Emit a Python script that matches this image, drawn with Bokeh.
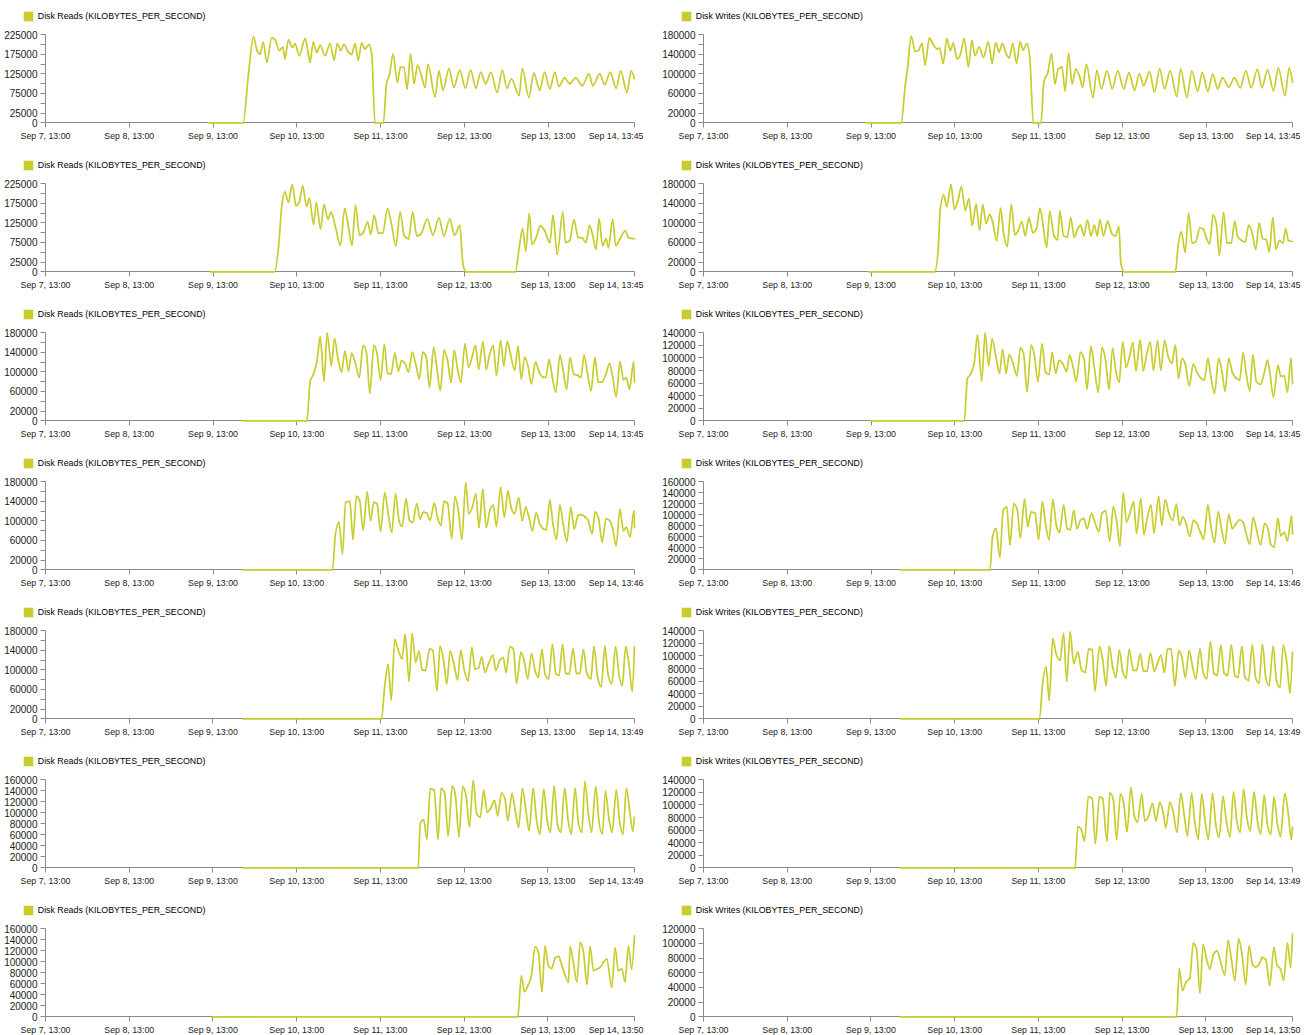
from bokeh.plotting import figure
from bokeh.models import FixedTicker, Legend, LegendItem, Label, ColumnDataSource, Range1d
from bokeh.layouts import gridplot
from bokeh.embed import file_html
from bokeh.resources import INLINE

# ---------------- data (time = hours after Sep 7, 13:00 ; value = KB/s) ----------------
reads_1 = [(46.7,0),(56.6,0),(58.2,129000),(59.6,220000),(60.6,185000),(61.5,176000),(62.4,206000),(63.4,155000),(64.8,217000),(65.8,212000),(67.0,185000),(68.0,193000),(68.6,164000),(69.6,212000),(70.7,193000),(71.5,202000),(72.7,172000),(74.4,215000),(75.3,176000),(75.8,155000),(76.7,206000),(77.7,180000),(78.7,198000),(80.1,172000),(81.5,202000),(82.7,161000),(83.6,202000),(84.6,185000),(85.5,200000),(86.8,180000),(87.7,175000),(88.7,202000),(89.6,161000),(90.6,204000),(91.5,189000),(92.7,200000),(93.5,172000),(94.4,0),(96.8,0),(97.7,101000),(98.5,121000),(99.6,175000),(100.8,104000),(101.7,142000),(102.7,142000),(103.6,87000),(104.6,175000),(105.6,101000),(106.6,147000),(107.8,117000),(108.7,91000),(109.6,149000),(111.6,67000),(112.7,132000),(113.9,84000),(115.6,138000),(117.0,91000),(118.7,134000),(120.3,89000),(121.8,134000),(123.3,89000),(124.7,129000),(126.1,100000),(127.6,129000),(129.4,78000),(130.9,134000),(132.2,89000),(133.5,112000),(135.7,70000),(136.6,138000),(138.5,65000),(139.9,127000),(141.6,84000),(143.0,129000),(144.5,87000),(145.9,129000),(147.1,93000),(148.7,115000),(150.2,100000),(151.9,115000),(153.8,95000),(155.7,125000),(156.8,95000),(158.8,125000),(160.2,98000),(161.8,129000),(163.5,89000),(164.8,132000),(166.6,78000),(167.8,132000),(168.75,112000)]
writes_1 = [(46.7,0),(56.6,0),(57.8,76000),(58.5,114000),(59.5,177000),(60.7,146000),(61.6,148000),(62.6,162000),(63.5,119000),(64.7,173000),(65.7,162000),(66.9,151000),(67.6,153000),(68.7,122000),(69.7,172000),(70.7,148000),(71.6,163000),(72.6,131000),(73.5,138000),(74.7,172000),(75.9,115000),(76.9,168000),(77.8,138000),(79.0,155000),(80.2,134000),(81.6,165000),(82.7,122000),(83.7,163000),(84.7,145000),(85.6,162000),(86.9,138000),(87.6,133000),(88.6,162000),(89.7,122000),(90.7,165000),(91.6,149000),(92.6,162000),(93.5,131000),(94.5,0),(96.7,0),(97.5,83000),(98.7,104000),(99.7,141000),(100.7,80000),(101.6,110000),(102.7,114000),(103.6,66000),(104.6,141000),(105.6,80000),(106.7,110000),(107.8,93000),(108.6,73000),(109.7,119000),(111.6,52000),(112.7,107000),(114.0,70000),(115.6,106000),(117.1,70000),(118.7,106000),(120.4,70000),(121.9,102000),(123.5,67000),(124.9,100000),(126.1,76000),(127.8,104000),(129.2,63000),(130.7,110000),(132.1,70000),(133.7,106000),(135.6,54000),(136.7,110000),(138.5,52000),(139.9,106000),(141.6,65000),(142.9,102000),(144.5,65000),(145.9,99000),(147.3,70000),(148.7,92000),(150.5,73000),(152.1,92000),(153.8,72000),(155.4,106000),(156.9,72000),(158.7,109000),(160.0,72000),(161.6,108000),(163.3,66000),(164.7,112000),(166.6,56000),(167.8,112000),(168.75,83000)]
reads_2 = [(47.3,0),(65.6,0),(66.8,67000),(67.7,169000),(68.6,204000),(69.6,178000),(70.7,222000),(71.8,169000),(72.7,178000),(73.7,219000),(74.8,168000),(75.6,188000),(76.8,122000),(77.6,176000),(78.8,110000),(79.8,171000),(80.9,135000),(81.8,152000),(83.0,118000),(84.5,68000),(85.7,161000),(86.9,110000),(87.8,68000),(88.8,169000),(90.0,94000),(91.2,103000),(92.3,127000),(93.2,97000),(94.2,144000),(95.4,99000),(96.6,99000),(98.0,161000),(99.2,118000),(100.4,67000),(101.6,152000),(102.8,92000),(104.0,84000),(105.2,152000),(106.4,92000),(107.6,97000),(109.4,135000),(111.0,94000),(112.7,137000),(114.2,92000),(115.8,135000),(117.2,94000),(118.7,118000),(119.6,20000),(120.5,0),(134.6,0),(135.8,67000),(136.7,110000),(137.6,54000),(138.6,148000),(139.4,71000),(140.6,88000),(141.8,118000),(143.0,105000),(144.5,75000),(145.4,144000),(146.6,45000),(148.2,152000),(149.0,75000),(150.2,80000),(151.4,133000),(152.6,88000),(153.8,86000),(154.8,75000),(155.9,118000),(156.8,92000),(157.7,58000),(158.6,135000),(159.6,67000),(160.6,84000),(161.3,62000),(162.5,133000),(163.4,67000),(164.6,84000),(166.1,105000),(167.0,88000),(168.75,84000)]
writes_2 = [(47.3,0),(66.2,0),(67.2,40000),(67.8,126000),(68.8,157000),(69.7,134000),(70.9,178000),(71.9,128000),(72.8,143000),(73.9,173000),(75.0,126000),(76.0,149000),(77.0,95000),(78.1,138000),(79.1,85000),(80.0,137000),(81.0,99000),(82.0,117000),(82.8,103000),(84.0,64000),(85.1,130000),(86.0,78000),(87.0,52000),(88.2,137000),(89.2,76000),(90.1,83000),(91.2,102000),(92.2,74000),(93.2,110000),(94.4,80000),(95.4,88000),(96.4,130000),(97.3,95000),(98.3,50000),(99.2,123000),(100.4,74000),(101.4,66000),(102.1,123000),(103.2,73000),(104.2,71000),(105.2,110000),(106.2,71000),(107.2,88000),(108.0,95000),(109.0,74000),(110.0,106000),(111.0,74000),(112.0,95000),(112.8,74000),(113.6,106000),(114.6,74000),(115.8,103000),(117.0,78000),(118.0,73000),(119.0,92000),(119.6,16000),(120.6,0),(135.2,0),(136.0,54000),(136.9,81000),(138.0,40000),(139.0,119000),(140.0,59000),(141.0,61000),(142.2,90000),(143.2,87000),(144.0,71000),(145.0,57000),(146.0,116000),(147.0,95000),(147.8,34000),(149.0,121000),(150.0,59000),(151.2,59000),(152.2,103000),(153.0,73000),(154.2,64000),(155.2,61000),(156.2,95000),(157.2,80000),(158.2,46000),(159.2,99000),(160.2,68000),(161.2,66000),(162.1,41000),(163.1,110000),(164.0,47000),(165.0,64000),(166.0,59000),(166.8,88000),(167.6,64000),(168.75,62000)]
reads_3 = [(56.6,0),(74.9,0),(75.8,79000),(76.8,96000),(77.8,123000),(78.7,171000),(79.8,82000),(80.7,179000),(81.9,113000),(82.8,168000),(83.8,127000),(84.8,100000),(85.8,142000),(86.8,102000),(87.7,138000),(88.8,117000),(89.9,89000),(91.0,154000),(92.0,137000),(92.9,57000),(94.1,154000),(95.0,137000),(96.0,84000),(97.1,156000),(98.0,97000),(99.0,96000),(100.1,138000),(101.1,102000),(102.0,123000),(103.0,117000),(104.0,100000),(105.1,140000),(106.1,115000),(107.1,86000),(108.1,140000),(109.1,130000),(110.0,69000),(111.2,149000),(112.1,110000),(113.1,62000),(114.2,144000),(115.2,123000),(116.2,79000),(117.1,144000),(118.1,103000),(119.0,79000),(120.2,157000),(121.2,110000),(122.2,130000),(123.2,154000),(124.1,106000),(125.3,161000),(126.3,106000),(127.3,137000),(128.3,154000),(129.2,93000),(130.4,164000),(131.3,113000),(132.3,162000),(133.2,137000),(134.4,104000),(135.4,152000),(136.3,86000),(137.3,130000),(138.2,113000),(139.2,76000),(140.4,120000),(141.4,100000),(142.6,89000),(143.3,89000),(144.3,125000),(145.2,89000),(146.2,59000),(147.4,134000),(148.3,103000),(149.3,65000),(150.3,129000),(151.3,96000),(152.4,93000),(153.4,89000),(154.3,134000),(155.3,96000),(156.3,62000),(157.4,129000),(158.4,79000),(159.4,79000),(160.6,96000),(161.6,117000),(162.5,89000),(163.5,50000),(164.6,120000),(165.6,84000),(166.4,88000),(167.3,65000),(168.5,120000),(168.75,79000)]
writes_3 = [(47.8,0),(74.7,0),(75.6,67000),(76.6,75000),(77.6,93000),(78.5,136000),(79.7,64000),(80.7,139000),(81.7,88000),(82.7,130000),(83.8,101000),(84.8,76000),(85.7,113000),(86.7,76000),(87.6,105000),(88.6,93000),(89.8,72000),(90.8,116000),(91.7,107000),(92.7,47000),(93.9,120000),(94.8,104000),(95.8,63000),(97.0,122000),(98.0,77000),(99.0,74000),(99.9,108000),(100.9,76000),(101.9,96000),(102.8,92000),(104.0,79000),(104.9,104000),(105.9,85000),(106.8,63000),(108.0,109000),(109.0,99000),(109.9,51000),(111.0,118000),(111.9,88000),(113.1,46000),(114.2,116000),(115.2,96000),(116.2,51000),(117.2,115000),(118.2,77000),(119.1,62000),(120.1,125000),(121.1,85000),(122.0,101000),(123.0,124000),(123.9,80000),(125.1,128000),(126.0,80000),(127.0,107000),(128.0,125000),(128.9,81000),(130.1,127000),(131.0,81000),(132.1,127000),(133.2,101000),(134.2,92000),(135.2,120000),(136.1,68000),(137.1,99000),(138.0,91000),(139.2,56000),(140.3,90000),(141.4,77000),(142.6,67000),(143.5,65000),(144.5,99000),(145.4,69000),(146.4,44000),(147.6,99000),(148.6,76000),(149.4,48000),(150.5,99000),(151.5,77000),(152.6,68000),(153.6,65000),(154.6,108000),(155.5,75000),(156.5,48000),(157.4,104000),(158.4,62000),(159.6,58000),(160.6,75000),(161.6,96000),(162.3,75000),(163.3,38000),(164.6,88000),(165.4,71000),(166.4,71000),(167.3,46000),(168.3,99000),(168.75,59000)]
reads_4 = [(56.6,0),(82.2,0),(83.1,74000),(84.1,97000),(85.1,33000),(86.0,138000),(87.2,140000),(88.1,63000),(89.1,150000),(90.0,142000),(91.0,82000),(92.2,159000),(93.1,101000),(94.1,138000),(95.0,135000),(96.0,79000),(97.2,157000),(98.2,115000),(99.2,77000),(100.3,155000),(101.3,101000),(102.2,89000),(103.3,145000),(104.3,101000),(105.2,97000),(106.4,135000),(107.3,104000),(108.3,118000),(109.2,116000),(110.2,102000),(111.4,136000),(112.3,108000),(113.3,91000),(114.2,140000),(115.2,136000),(116.4,65000),(117.3,149000),(118.3,121000),(119.3,63000),(120.4,177000),(121.3,115000),(122.3,128000),(123.3,155000),(124.2,87000),(125.3,164000),(126.3,87000),(127.3,121000),(128.3,132000),(129.2,89000),(130.4,168000),(131.5,108000),(132.5,161000),(133.4,128000),(134.4,115000),(135.6,147000),(136.6,101000),(137.6,128000),(138.5,108000),(139.5,80000),(140.6,116000),(141.6,94000),(142.6,84000),(143.5,82000),(144.5,142000),(145.4,94000),(146.4,63000),(147.4,132000),(148.3,94000),(149.4,59000),(150.5,127000),(151.5,84000),(152.6,111000),(153.6,113000),(154.6,108000),(155.5,101000),(156.6,74000),(157.5,118000),(158.5,104000),(159.5,57000),(160.6,104000),(161.6,101000),(162.5,84000),(163.5,50000),(164.6,123000),(165.6,80000),(166.4,87000),(167.5,68000),(168.6,120000),(168.77,87000)]
writes_4 = [(56.4,0),(82.1,0),(82.8,59000),(83.8,75000),(84.9,23000),(85.9,108000),(86.9,114000),(87.8,46000),(88.9,120000),(89.9,109000),(90.8,59000),(92.0,128000),(92.9,79000),(93.9,105000),(95.0,103000),(96.0,56000),(97.1,123000),(98.0,84000),(99.0,55000),(100.1,127000),(101.1,81000),(102.0,68000),(103.2,117000),(104.2,75000),(105.1,73000),(106.1,108000),(107.0,75000),(108.0,90000),(109.0,93000),(109.9,75000),(111.2,102000),(112.1,87000),(113.3,70000),(114.2,103000),(115.2,107000),(116.4,53000),(117.4,114000),(118.4,87000),(119.3,44000),(120.3,139000),(121.2,87000),(122.2,103000),(123.2,123000),(124.1,67000),(125.3,129000),(126.2,65000),(127.2,96000),(128.2,117000),(129.1,68000),(130.4,133000),(131.3,82000),(132.3,127000),(133.4,102000),(134.4,90000),(135.5,119000),(136.4,81000),(137.4,96000),(138.3,84000),(139.3,61000),(140.4,90000),(141.4,84000),(142.4,68000),(143.3,56000),(144.5,117000),(145.4,79000),(146.4,50000),(147.5,105000),(148.4,75000),(149.4,48000),(150.5,101000),(151.5,75000),(152.6,84000),(153.6,91000),(154.6,87000),(155.5,65000),(156.5,47000),(157.5,95000),(158.5,72000),(159.6,46000),(160.8,84000),(161.8,72000),(162.5,47000),(163.5,41000),(164.6,93000),(165.4,62000),(166.4,68000),(167.3,53000),(168.5,97000),(168.77,65000)]
reads_5 = [(56.6,0),(96.3,0),(97.2,65000),(98.2,111000),(99.1,39000),(100.1,162000),(101.0,143000),(102.2,123000),(103.1,172000),(104.2,78000),(105.1,174000),(106.1,116000),(107.0,138000),(108.0,100000),(108.9,99000),(110.1,143000),(111.0,140000),(112.2,58000),(113.1,148000),(114.1,119000),(115.0,72000),(116.0,138000),(117.0,114000),(118.1,80000),(119.0,140000),(120.0,100000),(121.1,78000),(122.2,145000),(123.1,102000),(124.1,104000),(125.0,126000),(126.0,95000),(126.9,111000),(128.2,130000),(129.1,99000),(130.3,121000),(131.2,125000),(132.0,95000),(133.1,147000),(134.1,143000),(135.0,73000),(136.3,136000),(137.2,119000),(138.2,82000),(139.3,133000),(140.3,99000),(141.2,85000),(142.3,141000),(143.2,91000),(144.2,82000),(145.3,152000),(146.3,92000),(147.2,89000),(148.2,152000),(149.1,93000),(150.1,92000),(151.2,143000),(152.2,93000),(153.1,93000),(154.2,141000),(155.1,95000),(156.3,82000),(157.2,147000),(158.2,87000),(159.3,66000),(160.3,148000),(161.2,92000),(162.3,72000),(163.4,147000),(164.4,89000),(165.3,68000),(166.3,147000),(167.2,113000),(168.2,57000),(168.8,147000)]
writes_5 = [(56.4,0),(96.3,0),(97.2,56000),(98.2,82000),(99.1,30000),(100.1,127000),(101.1,103000),(102.2,93000),(103.2,136000),(104.1,60000),(105.1,138000),(106.1,88000),(107.3,106000),(108.4,77000),(109.4,74000),(110.4,111000),(111.4,110000),(112.2,45000),(113.5,115000),(114.4,94000),(115.4,53000),(116.3,115000),(117.3,82000),(118.2,66000),(119.2,109000),(120.1,77000),(121.1,65000),(122.0,110000),(123.2,77000),(124.1,77000),(125.2,103000),(126.1,76000),(127.1,76000),(128.1,104000),(129.2,76000),(130.2,90000),(131.1,101000),(132.1,74000),(133.0,111000),(134.0,111000),(135.1,53000),(136.2,108000),(137.1,98000),(138.1,66000),(139.2,108000),(140.2,82000),(141.1,64000),(142.3,111000),(143.2,74000),(144.2,64000),(145.3,122000),(146.3,72000),(147.2,69000),(148.3,117000),(149.2,73000),(150.2,69000),(151.3,117000),(152.3,69000),(153.2,66000),(154.3,115000),(155.2,66000),(156.2,61000),(157.3,117000),(158.3,64000),(159.2,57000),(160.2,118000),(161.2,64000),(162.1,53000),(163.3,115000),(164.2,61000),(165.2,50000),(166.2,117000),(167.2,88000),(168.1,42000),(168.8,106000)]
reads_6 = [(56.6,0),(106.8,0),(107.4,80000),(108.4,87000),(109.3,53000),(110.3,144000),(111.4,141000),(112.5,53000),(113.4,144000),(114.4,136000),(115.4,59000),(116.6,148000),(117.5,131000),(118.5,57000),(119.6,147000),(120.6,128000),(121.5,75000),(122.6,158000),(123.6,98000),(124.6,92000),(125.6,141000),(126.6,101000),(127.5,107000),(128.7,122000),(129.6,95000),(130.7,136000),(131.7,125000),(132.5,86000),(133.7,135000),(134.7,101000),(135.6,74000),(136.7,144000),(137.7,104000),(138.6,68000),(139.8,144000),(140.7,89000),(141.7,62000),(142.8,142000),(143.8,86000),(144.7,65000),(145.8,148000),(146.7,80000),(147.7,65000),(148.8,144000),(149.8,86000),(150.7,62000),(151.8,144000),(152.7,83000),(153.7,65000),(154.6,156000),(155.6,98000),(156.5,65000),(157.7,147000),(158.6,86000),(159.6,62000),(160.5,139000),(161.5,89000),(162.4,65000),(163.6,141000),(164.5,86000),(165.5,62000),(166.5,144000),(167.5,101000),(168.3,67000),(168.8,92000)]
writes_6 = [(56.4,0),(106.5,0),(107.3,65000),(108.2,62000),(109.2,43000),(110.3,113000),(111.4,110000),(112.3,39000),(113.5,113000),(114.4,110000),(115.6,43000),(116.5,119000),(117.5,107000),(118.4,45000),(119.5,117000),(120.4,104000),(121.4,58000),(122.5,127000),(123.5,82000),(124.4,73000),(125.6,117000),(126.5,75000),(127.5,81000),(128.7,102000),(129.7,75000),(130.8,104000),(131.8,86000),(132.5,64000),(133.7,104000),(134.6,89000),(135.7,57000),(136.8,118000),(137.8,83000),(138.7,51000),(139.9,118000),(140.8,73000),(141.8,46000),(142.8,117000),(143.8,73000),(144.7,46000),(145.9,118000),(146.8,70000),(147.8,49000),(148.9,113000),(149.9,73000),(150.9,50000),(151.9,120000),(152.9,73000),(153.8,57000),(154.8,124000),(155.7,81000),(156.7,59000),(157.8,120000),(158.8,73000),(159.7,54000),(160.7,115000),(161.6,70000),(162.6,54000),(163.5,112000),(164.5,70000),(165.4,50000),(166.6,118000),(167.5,91000),(168.5,45000),(168.8,65000)]
reads_7 = [(48.0,0),(135.4,0),(136.4,74000),(137.3,46000),(138.3,57000),(139.2,72000),(140.4,127000),(141.3,116000),(142.3,46000),(143.2,128000),(144.2,92000),(145.1,88000),(146.1,107000),(147.1,110000),(148.0,93000),(149.0,75000),(149.9,63000),(150.4,127000),(151.3,99000),(152.3,64000),(153.3,135000),(154.2,118000),(155.2,60000),(156.1,127000),(157.1,84000),(158.0,87000),(159.0,90000),(159.9,99000),(160.9,105000),(162.3,54000),(163.3,125000),(164.2,84000),(165.2,87000),(166.1,64000),(167.1,128000),(168.0,87000),(168.83,147000)]
writes_7 = [(56.4,0),(135.6,0),(136.4,65000),(137.3,36000),(138.3,47000),(139.4,53000),(140.4,100000),(141.3,93000),(142.3,33000),(143.2,98000),(144.2,79000),(145.1,65000),(146.1,84000),(147.2,90000),(148.2,75000),(149.4,57000),(150.4,104000),(151.3,79000),(152.3,50000),(153.4,106000),(154.4,84000),(155.4,45000),(156.4,96000),(157.4,71000),(158.3,68000),(159.3,72000),(160.2,81000),(161.2,78000),(162.3,43000),(163.5,94000),(164.4,70000),(165.4,65000),(166.3,50000),(167.4,100000),(168.3,68000),(168.83,113000)]

reads_series = [reads_1, reads_2, reads_3, reads_4, reads_5, reads_6, reads_7]
writes_series = [writes_1, writes_2, writes_3, writes_4, writes_5, writes_6, writes_7]

reads_title = "Disk Reads (KILOBYTES_PER_SECOND)"
writes_title = "Disk Writes (KILOBYTES_PER_SECOND)"

day_tick_labels = ["Sep 7, 13:00", "Sep 8, 13:00", "Sep 9, 13:00", "Sep 10, 13:00",
                   "Sep 11, 13:00", "Sep 12, 13:00", "Sep 13, 13:00"]
end_labels = ["Sep 14, 13:45", "Sep 14, 13:45", "Sep 14, 13:45", "Sep 14, 13:46",
              "Sep 14, 13:49", "Sep 14, 13:49", "Sep 14, 13:50"]
end_minutes = [10125, 10125, 10125, 10126, 10129, 10129, 10130]

reads_ymax = [225000, 225000, 180000, 180000, 180000, 160000, 160000]
reads_ystep = [25000, 25000, 20000, 20000, 20000, 20000, 20000]
writes_ymax = [180000, 180000, 140000, 160000, 140000, 140000, 120000]
writes_ystep = [20000, 20000, 20000, 20000, 20000, 20000, 20000]

# ---------------- style / layout ----------------
COLOR = "#c8cc2c"
FONT = "Liberation Sans"
X_FONT_SIZE = "8.8px"
Y_FONT_SIZE = "10px"
LEGEND_FONT_SIZE = "8.8px"
TEXT_COLOR = "#222222"
AXIS_COLOR = "#8a8a8a"
ROW_H = [149, 149, 149, 149, 149, 149, 141]
TOP = 34.3          # px from figure top to the top tick
PLOT_H = 88         # px between top tick and zero
DATA_W = 589        # px of the time axis
LEGEND_BOTTOM = 21.5  # px from figure top to bottom of legend glyph box


def monotone_curve(xs, ys):
    """Cubic segments of a monotone-x curve through the samples (like d3.curveMonotoneX)."""
    n = len(xs)

    def sign(v):
        return (v > 0) - (v < 0)

    t = [0.0] * n
    for i in range(1, n - 1):
        h0 = xs[i] - xs[i - 1]
        h1 = xs[i + 1] - xs[i]
        s0 = (ys[i] - ys[i - 1]) / h0
        s1 = (ys[i + 1] - ys[i]) / h1
        pp = (s0 * h1 + s1 * h0) / (h0 + h1)
        t[i] = (sign(s0) + sign(s1)) * min(abs(s0), abs(s1), 0.5 * abs(pp))
    t[0] = (3 * (ys[1] - ys[0]) / (xs[1] - xs[0]) - t[1]) / 2
    t[-1] = (3 * (ys[-1] - ys[-2]) / (xs[-1] - xs[-2]) - t[-2]) / 2
    seg = dict(x0=[], y0=[], x1=[], y1=[], cx0=[], cy0=[], cx1=[], cy1=[])
    for i in range(n - 1):
        d = (xs[i + 1] - xs[i]) / 3
        seg["x0"].append(xs[i]); seg["y0"].append(ys[i])
        seg["x1"].append(xs[i + 1]); seg["y1"].append(ys[i + 1])
        seg["cx0"].append(xs[i] + d); seg["cy0"].append(ys[i] + d * t[i])
        seg["cx1"].append(xs[i + 1] - d); seg["cy1"].append(ys[i + 1] - d * t[i + 1])
    return seg


def make_panel(series, title, ymax, ystep, end_min, end_label, width, height, axis_px, end_offset):
    # the whole figure is the frame; axes sit at fixed data locations inside it
    xs = DATA_W / end_min
    ys = PLOT_H / ymax
    bottom_px = height - TOP - PLOT_H
    x_range = Range1d(-axis_px / xs, (width - axis_px) / xs)
    y_range = Range1d(-bottom_px / ys, ymax + TOP / ys)
    p = figure(width=width, height=height, output_backend="svg", toolbar_location=None,
               x_range=x_range, y_range=y_range,
               min_border=0, min_border_left=0, min_border_right=0,
               min_border_top=0, min_border_bottom=0)
    p.xgrid.visible = False
    p.ygrid.visible = False
    p.outline_line_color = None

    xs_data = [t * 60 for t, _ in series]
    ys_data = [v for _, v in series]
    src = ColumnDataSource(monotone_curve(xs_data, ys_data))
    curve = p.bezier(x0="x0", y0="y0", x1="x1", y1="y1", cx0="cx0", cy0="cy0",
                     cx1="cx1", cy1="cy1", source=src, line_color=COLOR,
                     line_width=1.7, line_cap="round")
    curve.level = "annotation"

    # zero-area swatch at the first sample: only used for the legend square
    swatch = p.quad(left=xs_data[:1], right=xs_data[:1], top=ys_data[:1], bottom=ys_data[:1],
                    fill_color=COLOR, line_color=None)
    legend = Legend(items=[LegendItem(label=title, renderers=[swatch])],
                    location=(axis_px - 23.2, height - LEGEND_BOTTOM), orientation="horizontal",
                    border_line_color=None, background_fill_alpha=0,
                    padding=0, margin=0, spacing=0,
                    glyph_width=12, glyph_height=12, label_height=12, label_width=10,
                    label_standoff=4, label_text_font=FONT,
                    label_text_font_size=LEGEND_FONT_SIZE, label_text_color="#000000",
                    label_text_baseline="middle")
    p.add_layout(legend)

    xticks = [i * 1440 for i in range(7)] + [end_min]
    xover = {i * 1440: day_tick_labels[i] for i in range(7)}
    xover[end_min] = ""
    p.xaxis.ticker = FixedTicker(ticks=xticks)
    p.xaxis.major_label_overrides = xover
    p.xaxis.fixed_location = 0
    p.xaxis.bounds = (0, end_min)

    yticks = list(range(0, ymax + 1, ystep))
    n = len(yticks) - 1
    if n > 8:
        yover = {v: (str(v) if (i == 0 or i % 2 == 1) else "") for i, v in enumerate(yticks)}
    else:
        yover = {v: str(v) for v in yticks}
    p.yaxis.ticker = FixedTicker(ticks=yticks)
    p.yaxis.major_label_overrides = yover
    p.yaxis.fixed_location = 0
    p.yaxis.bounds = (0, ymax)

    for ax, size in ((p.xaxis[0], X_FONT_SIZE), (p.yaxis[0], Y_FONT_SIZE)):
        ax.axis_line_color = AXIS_COLOR
        ax.major_tick_line_color = AXIS_COLOR
        ax.minor_tick_line_color = None
        ax.major_tick_in = 0
        ax.major_tick_out = 5
        ax.major_label_text_font = FONT
        ax.major_label_text_font_size = size
        ax.major_label_text_color = TEXT_COLOR
        ax.major_label_standoff = 3

    p.add_layout(Label(x=end_min, y=0, x_units="data", y_units="data",
                       x_offset=end_offset, y_offset=-8, text=end_label,
                       text_align="right", text_baseline="top",
                       text_font=FONT, text_font_size=X_FONT_SIZE,
                       text_color=TEXT_COLOR))
    return p


rows = []
for i in range(7):
    left = make_panel(reads_series[i], reads_title, reads_ymax[i], reads_ystep[i],
                      end_minutes[i], end_labels[i], 658, ROW_H[i], 45, 9)
    right = make_panel(writes_series[i], writes_title, writes_ymax[i], writes_ystep[i],
                       end_minutes[i], end_labels[i], 651, ROW_H[i], 45, 8)
    rows.append([left, right])

grid = gridplot(rows, toolbar_location=None)
open("out.html", "w").write(file_html(grid, INLINE))
